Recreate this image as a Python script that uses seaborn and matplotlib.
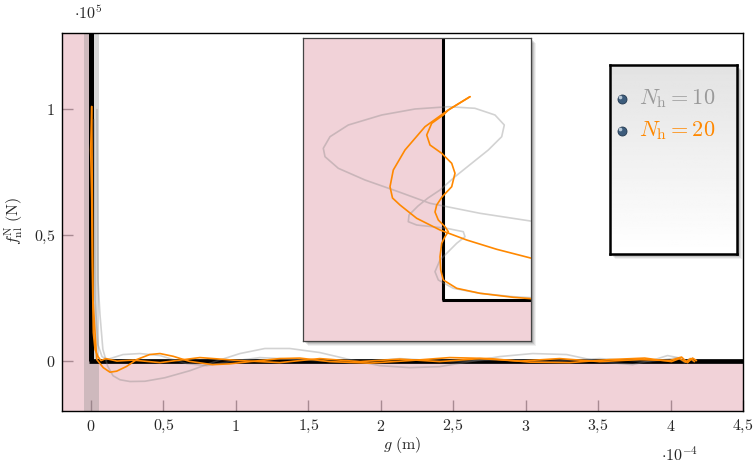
import numpy as np
import matplotlib
matplotlib.use('Agg')
import matplotlib.pyplot as plt
import matplotlib.patches as mpatches
from matplotlib.patches import ConnectionPatch
import seaborn as sns

sns.set_style('white')
plt.rcParams['font.family'] = ['DejaVu Serif']
plt.rcParams['mathtext.fontset'] = 'cm'

# main plot data (g in 1e-4 m, f in 1e5 N)
gray1_g = [0.041, 0.045, 0.048, 0.062, 0.082, 0.115, 0.152, 0.200, 0.269, 0.372, 0.510, 0.683, 0.855,
           1.028, 1.200, 1.372, 1.579, 1.786, 1.993, 2.200, 2.407, 2.614, 2.821, 3.048, 3.283,
           3.510, 3.738, 3.890, 3.979, 4.048, 4.097, 4.131, 4.159]
gray1_f = [0.996, 0.639, 0.321, 0.183, 0.045, -0.022, -0.060, -0.076, -0.083, -0.082, -0.068, -0.040, -0.004,
           0.028, 0.048, 0.048, 0.032, 0.004, -0.020, -0.028, -0.024, -0.004, 0.016, 0.028, 0.024,
           -0.004, -0.016, 0.004, 0.020, 0.012, -0.008, 0.008, -0.004]
gray2_g = [0.021, 0.028, 0.048, 0.076, 0.110, 0.221, 0.338, 0.476, 0.662, 0.800, 0.979, 1.166,
           1.441, 1.786, 2.131, 2.476, 2.821, 3.166, 3.510, 3.855, 4.062, 4.117, 4.145]
gray2_f = [0.956, 0.242, 0.063, 0.016, 0.004, 0.024, 0.028, 0.020, -0.012, -0.020, -0.002, 0.012,
           0.004, -0.008, 0.008, -0.004, 0.004, -0.004, 0.008, -0.004, 0.012, -0.008, 0.008]
orange1_g = [0.005, -0.002, 0.005, 0.009, 0.016, 0.028, 0.048, 0.069, 0.103, 0.179, 0.290, 0.476,
             0.752, 1.028, 1.303, 1.579, 1.855, 2.131, 2.407, 2.683, 2.959, 3.234, 3.510, 3.786,
             3.993, 4.076, 4.117, 4.152, 4.179]
orange1_f = [1.008, 0.837, 0.639, 0.373, 0.111, 0.044, 0.016, 0.000, 0.008, -0.002, 0.002, -0.008,
             0.012, 0.000, -0.008, 0.008, -0.004, 0.006, -0.004, 0.008, -0.002, 0.008, -0.004, 0.004,
             0.000, 0.014, -0.008, 0.010, 0.000]
orange2_g = [0.005, 0.014, 0.028, 0.040, 0.085, 0.131, 0.177, 0.246, 0.315, 0.405, 0.476, 0.568, 0.680,
             0.838, 0.955, 1.114, 1.303, 1.441, 1.648, 1.924, 2.200, 2.476, 2.752, 3.028, 3.303, 3.579,
             3.821, 4.007, 4.062, 4.103, 4.138, 4.166]
orange2_f = [1.008, 0.242, 0.111, 0.004, -0.028, -0.046, -0.042, -0.023, 0.004, 0.024, 0.028, 0.017, -0.003,
             -0.016, -0.013, -0.003, 0.008, 0.010, -0.004, -0.010, 0.000, 0.012, 0.008, -0.006, -0.008, 0.004,
             0.010, -0.004, 0.008, -0.006, 0.008, -0.004]

# zoomed inset data (zoom units)
in_gray_g = [0.92, 0.37, -0.13, -0.447, -0.78, -1.047, -1.18, -1.197, -1.13, -0.947, -0.613, -0.28,
             0.053, 0.32, 0.52, 0.613, 0.587, 0.453, 0.287, 0.12, -0.03, -0.15, -0.25, -0.34, -0.347,
             -0.263, 0.037, 0.203, 0.22, 0.137, -0.03, -0.08, -0.047, 0.103, 0.37, 0.703, 0.887]
in_gray_f = [0.783, 0.867, 0.967, 1.083, 1.20, 1.317, 1.433, 1.517, 1.633, 1.75, 1.85, 1.91,
             1.933, 1.917, 1.85, 1.75, 1.633, 1.50, 1.367, 1.233, 1.10, 1.02, 0.94, 0.85, 0.783,
             0.75, 0.717, 0.683, 0.633, 0.567, 0.40, 0.283, 0.20, 0.117, 0.067, 0.033, 0.023]
in_or1_g = [0.27, 0.053, -0.18, -0.38, -0.497, -0.53, -0.505, -0.43, -0.263, -0.03, 0.237, 0.537, 0.887]
in_or1_f = [2.033, 1.90, 1.733, 1.50, 1.30, 1.133, 1.02, 0.95, 0.817, 0.70, 0.60, 0.507, 0.417]
in_or2_g = [0.27, 0.053, 0.003, -0.113, -0.163, -0.13, -0.013, 0.087, 0.12, 0.087, -0.01, -0.063,
            -0.08, -0.047, 0.02, 0.053, 0.02, -0.013, -0.03, -0.023, 0.003, 0.137, 0.37, 0.703, 0.887]
in_or2_f = [2.033, 1.90, 1.85, 1.767, 1.65, 1.55, 1.467, 1.367, 1.267, 1.133, 1.03, 0.95,
            0.88, 0.80, 0.733, 0.683, 0.633, 0.567, 0.433, 0.30, 0.20, 0.117, 0.067, 0.027, 0.013]

xticks = [0, 0.5, 1, 1.5, 2, 2.5, 3, 3.5, 4, 4.5]
xtick_labels = ['0', '0,5', '1', '1,5', '2', '2,5', '3', '3,5', '4', '4,5']
yticks = [0, 0.5, 1]
ytick_labels = ['0', '0,5', '1']
legend_labels = [r'$N_{\mathrm{h}} = 10$', r'$N_{\mathrm{h}} = 20$']

PINK = '#f1d2d8'
ORANGE = '#ff8800'
GRAY = '#9a9a9a'

W, H = 755, 463
fig = plt.figure(figsize=(W / 100, H / 100), dpi=100)


def fig_rect(x0, y0, x1, y1):
    return [x0 / W, (H - y1) / H, (x1 - x0) / W, (y1 - y0) / H]


def shadow(x0, y0, x1, y1, zorder):
    for k, a in [(5, 0.06), (4, 0.08), (3, 0.1), (2, 0.12)]:
        r = fig_rect(x0 + k, y0 + k, x1 + k, y1 + k)
        fig.add_artist(mpatches.Rectangle((r[0], r[1]), r[2], r[3], transform=fig.transFigure,
                                          color='black', alpha=a, lw=0, zorder=zorder))


# main axes
ax = fig.add_axes(fig_rect(62, 33, 743, 411))
ax.set_zorder(1)
xmin, xmax, ymin, ymax = -0.2, 4.5, -0.2, 1.3
ax.fill([xmin, 0, 0, xmax, xmax, xmin], [ymax, ymax, 0, 0, ymin, ymin], color=PINK, lw=0, zorder=0)
ax.axvspan(-0.05, 0.055, color='gray', alpha=0.3, lw=0, zorder=1)
ax.plot([0, 0], [0, ymax], color='black', lw=3.6, solid_capstyle='butt', zorder=2)
ax.plot([-0.012, xmax], [0, 0], color='black', lw=3.4, solid_capstyle='butt', zorder=2)

for gx, fy in [(gray1_g, gray1_f), (gray2_g, gray2_f)]:
    sns.lineplot(x=gx, y=fy, sort=False, estimator=None, color='gray', alpha=0.35, lw=1.2, ax=ax, zorder=3)
for gx, fy in [(orange1_g, orange1_f), (orange2_g, orange2_f)]:
    sns.lineplot(x=gx, y=fy, sort=False, estimator=None, color=ORANGE, lw=1.2, ax=ax, zorder=4)

ax.set_xlim(xmin, xmax)
ax.set_ylim(ymin, ymax)
ax.set_xticks(xticks)
ax.set_xticklabels(['$' + t.replace(',', '{,}') + '$' for t in xtick_labels], fontsize=11.5)
ax.set_yticks(yticks)
ax.set_yticklabels(['$' + t.replace(',', '{,}') + '$' for t in ytick_labels], fontsize=11.5)
ax.tick_params(direction='in', length=8, width=1, color='#a88a92', bottom=True, left=True,
               top=False, right=False, pad=5)
for s in ax.spines.values():
    s.set_color('black')
    s.set_linewidth(1.0)
    s.set_zorder(6)
fig.text(402 / W, 1 - 445 / H, r'$g\ (\mathrm{m})$', fontsize=11.5, ha='center', va='center')
fig.text(14 / W, 1 - 221 / H, r'$f_{\mathrm{nl}}^{\mathrm{N}}\ (\mathrm{N})$', fontsize=11.5,
         ha='center', va='center', rotation=90)
fig.text(88 / W, 1 - 14 / H, r'$\cdot 10^{5}$', fontsize=11.5, ha='center', va='center')
fig.text(680 / W, 1 - 455 / H, r'$\cdot 10^{-4}$', fontsize=11.5, ha='center', va='center')

# inset
shadow(303, 38, 531, 341, zorder=1.5)
axin = fig.add_axes(fig_rect(303, 38, 531, 341))
axin.set_zorder(2)
ixmin, ixmax, iymin, iymax = -1.40, 0.88, -0.41, 2.62
axin.fill([ixmin, 0, 0, ixmax, ixmax, ixmin], [iymax, iymax, 0, 0, iymin, iymin], color=PINK, lw=0, zorder=0)
axin.plot([0, 0], [0, iymax], color='black', lw=2.2, solid_capstyle='butt', zorder=2)
axin.plot([-0.01, ixmax], [0, 0], color='black', lw=2.2, solid_capstyle='butt', zorder=2)
sns.lineplot(x=in_gray_g, y=in_gray_f, sort=False, estimator=None, color='gray', alpha=0.35, lw=1.2,
             ax=axin, zorder=3)
for gx, fy in [(in_or1_g, in_or1_f), (in_or2_g, in_or2_f)]:
    sns.lineplot(x=gx, y=fy, sort=False, estimator=None, color=ORANGE, lw=1.2, ax=axin, zorder=4)
axin.set_xlim(ixmin, ixmax)
axin.set_ylim(iymin, iymax)
axin.set_xticks([])
axin.set_yticks([])
for s in axin.spines.values():
    s.set_color('#444444')
    s.set_linewidth(0.9)

con = ConnectionPatch(xyA=(0.05, 0.5), coordsA=ax.transData, xyB=(0, (341 - 189) / 303),
                      coordsB=axin.transAxes, color='black', lw=0.9)
fig.add_artist(con)

# legend box
shadow(610, 65, 737, 254, zorder=1.5)
axl = fig.add_axes(fig_rect(610, 65, 737, 254))
axl.set_zorder(2)
grad = np.linspace(0.89, 1.0, 100).reshape(-1, 1)
axl.imshow(grad, cmap='gray', vmin=0, vmax=1, aspect='auto', extent=[0, 1, 0, 1], origin='upper')
axl.set_xlim(0, 1)
axl.set_ylim(0, 1)
axl.set_xticks([])
axl.set_yticks([])
for s in axl.spines.values():
    s.set_color('black')
    s.set_linewidth(1.8)
for yy, lab, col in zip([(254 - 99) / 189, (254 - 131) / 189], legend_labels, [GRAY, ORANGE]):
    axl.scatter([0.094], [yy], s=42, color='#3d5c7c', edgecolor='#22384f', linewidth=0.6, zorder=3)
    axl.scatter([0.080], [yy + 0.012], s=7, color='#b9cad9', lw=0, zorder=4)
    axl.text(0.225, yy, lab, color=col, fontsize=16, va='center', ha='left')

fig.savefig('out.png', dpi=100)
